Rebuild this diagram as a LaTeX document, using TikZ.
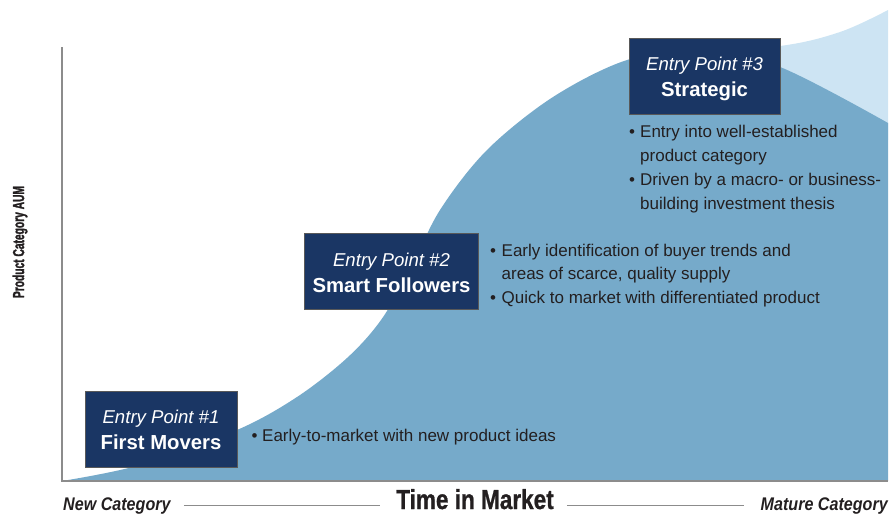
\documentclass[tikz,border=0pt]{standalone}
\usepackage{fontspec}
\setmainfont{Liberation Sans}
\newfontfamily\condbold[FakeStretch=0.64,FakeBold=1.6]{Liberation Sans Bold}
\newfontfamily\titlefont[FakeStretch=0.82,FakeBold=0.8]{Liberation Sans Bold}
\newfontfamily\semifont[FakeStretch=0.88]{Liberation Sans}
\definecolor{darkfill}{RGB}{118,170,202}
\definecolor{lightfill}{RGB}{205,228,243}
\definecolor{navy}{RGB}{26,54,100}
\definecolor{txt}{RGB}{35,31,32}
\definecolor{axisgray}{RGB}{140,140,140}
\begin{document}
\begin{tikzpicture}[x=1pt,y=-1pt,
  entrybox/.style={draw=black!65,line width=0.8pt,fill=navy,minimum width=#1,minimum height=76pt,inner sep=0pt},
  boxtop/.style={anchor=base,text=white,font=\fontsize{18.6}{20}\selectfont\itshape,inner sep=0pt},
  boxname/.style={anchor=base,text=white,font=\fontsize{20.3}{22}\selectfont\bfseries,inner sep=0pt},
  bullet/.style={anchor=base west,text=txt,font=\fontsize{17}{20}\selectfont,inner sep=0pt},
  axisline/.style={draw=axisgray,line width=1.2pt},
  thinline/.style={draw=axisgray,line width=0.8pt},
  endlabel/.style={anchor=base,text=txt,font=\semifont\fontsize{18.3}{20}\selectfont\bfseries\itshape,inner sep=0pt}
]
\useasboundingbox (0,0) rectangle (890,514);
% light region
\fill[lightfill] plot[smooth,tension=0.6] coordinates {(600,75) (690,52) (780,46) (840,32) (888,10)} -- (888,140) -- (650,140) -- cycle;
% dark region
\fill[darkfill] (62,481) -- plot[smooth,tension=0.55] coordinates {(62,481) (140,465) (237,430) (297,397) (347,358) (381,320) (410,270) (440,210) (487,150) (553,97) (627,60) (700,50) (780,67) (888,123)} -- (888,481) -- cycle;
% axes
\coordinate (ytop) at (62,47);
\coordinate (orig) at (62,481);
\coordinate (xend) at (888,481);
\draw[axisline] (ytop) -- (orig) -- (xend);
% y label
\node[rotate=90,text=txt,font=\condbold\fontsize{16}{18}\selectfont,inner sep=0pt] (ylab) at (20,242) {Product Category AUM};
% bottom labels
\node[endlabel,anchor=base west] (newcat) at (63,510) {New Category};
\node[endlabel,anchor=base east] (matcat) at (888,510) {Mature Category};
\node[anchor=base,text=txt,font=\titlefont\fontsize{27.5}{30}\selectfont,inner sep=0pt] (tim) at (475,509) {Time in Market};
\draw[thinline] ([xshift=13pt,yshift=5pt]newcat.base east) -- ([xshift=-16pt,yshift=4pt]tim.base west);
\draw[thinline] ([xshift=13pt,yshift=4pt]tim.base east) -- ([xshift=-17pt,yshift=5pt]matcat.base west);
% box 1
\node[entrybox=152pt] (b1) at (161,429) {};
\node[boxtop] (b1a) at ([yshift=-33pt]b1.north) {Entry Point \#1};
\node[boxname] (b1b) at ([yshift=-59pt]b1.north) {First Movers};
% box 2
\node[entrybox=174pt] (b2) at (391.5,271.5) {};
\node[boxtop] (b2a) at ([yshift=-33pt]b2.north) {Entry Point \#2};
\node[boxname] (b2b) at ([yshift=-59pt]b2.north) {Smart Followers};
% box 3
\node[entrybox=151pt] (b3) at (704.5,76) {};
\node[boxtop] (b3a) at ([yshift=-33pt]b3.north) {Entry Point \#3};
\node[boxname] (b3b) at ([yshift=-59pt]b3.north) {Strategic};
% bullets 1
\node[bullet] (l1a) at (251.5,441.5) {\makebox[10.5pt][l]{•}Early-to-market with new product ideas};
% bullets 2
\node[bullet] (l2a) at (490,256) {\makebox[11.5pt][l]{•}Early identification of buyer trends and};
\node[bullet] (l2b) at (501.5,279.5) {areas of scarce, quality supply};
\node[bullet] (l2c) at (490,303) {\makebox[11.5pt][l]{•}Quick to market with differentiated product};
% bullets 3
\node[bullet] (l3a) at (629,137) {\makebox[11pt][l]{•}Entry into well-established};
\node[bullet] (l3b) at (640,161) {product category};
\node[bullet] (l3c) at (629,185) {\makebox[11pt][l]{•}Driven by a macro- or business-};
\node[bullet] (l3d) at (640,209) {building investment thesis};
\end{tikzpicture}
\end{document}
